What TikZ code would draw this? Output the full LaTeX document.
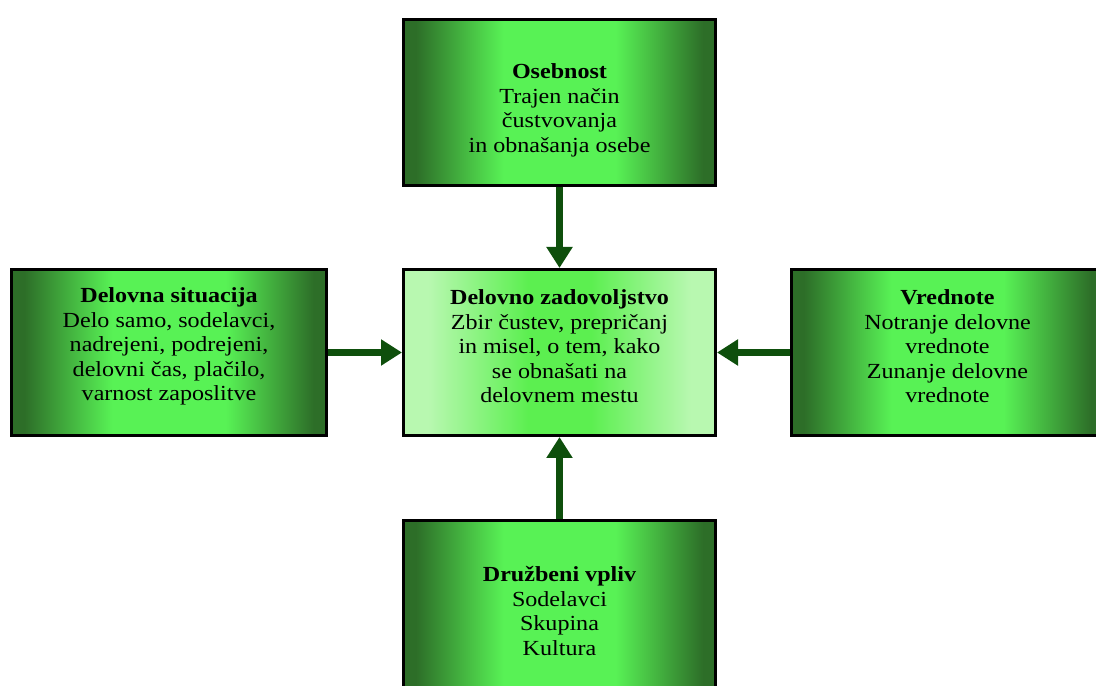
\documentclass[tikz,border=0pt]{standalone}
\usepackage{fontspec}
\setmainfont[FakeStretch=1.12]{Liberation Serif}
\usetikzlibrary{arrows.meta}

\definecolor{gdark}{HTML}{2D6E28}
\definecolor{glight}{HTML}{58F255}
\definecolor{pale}{HTML}{B8F8B0}
\definecolor{mid}{HTML}{5CEF50}
\definecolor{arrgreen}{HTML}{0E4F0C}

\pgfdeclarehorizontalshading{greenfade}{100bp}{color(0bp)=(gdark); color(27bp)=(gdark); color(41bp)=(glight); color(59bp)=(glight); color(73bp)=(gdark); color(100bp)=(gdark)}
\pgfdeclarehorizontalshading{palefade}{100bp}{color(0bp)=(pale); color(29bp)=(pale); color(45bp)=(mid); color(55bp)=(mid); color(71bp)=(pale); color(100bp)=(pale)}

\tikzset{
    box/.style={draw=black, line width=3pt, minimum width=312pt, minimum height=166pt, inner sep=0pt},
    greenbox/.style={box, shading=greenfade},
    mainbox/.style={box, shading=palefade},
    txt/.style={align=center, font=\fontsize{21.5}{24.5}\selectfont, inner sep=0pt},
    arr/.style={arrgreen, line width=7pt, -{Triangle[width=25pt,length=21pt]}}
}

\begin{document}
\begin{tikzpicture}[x=1pt, y=1pt]
    \useasboundingbox (0,0) rectangle (1096,686);
    \clip (0,0) rectangle (1096,686);

    % Boxes
    \node[mainbox] (zadov) at (559.5,333.5) {};
    \node[greenbox] (oseb) at (559.5,583.5) {};
    \node[greenbox, minimum width=315pt] (sit) at (169,333.5) {};
    \node[greenbox] (vred) at (947.5,333.5) {};
    \node[greenbox, minimum height=180pt] (druz) at (559.5,75) {};

    % Texts
    \node[txt, yshift=6pt] (zadovtxt) at (zadov) {\textbf{Delovno zadovoljstvo}\\Zbir čustev, prepričanj\\in misel, o tem, kako\\se obnašati na\\delovnem mestu};
    \node[txt, yshift=-8pt] (osebtxt) at (oseb) {\textbf{Osebnost}\\Trajen način\\čustvovanja\\in obnašanja osebe};
    \node[txt, yshift=6pt] (sittxt) at (sit) {\textbf{Delovna situacija}\\Delo samo, sodelavci,\\nadrejeni, podrejeni,\\delovni čas, plačilo,\\varnost zaposlitve};
    \node[txt, yshift=6pt] (vredtxt) at (vred) {\textbf{Vrednote}\\Notranje delovne\\vrednote\\Zunanje delovne\\vrednote};
    \node[txt] (druztxt) at (druz) {\textbf{Družbeni vpliv}\\Sodelavci\\Skupina\\Kultura};

    % Arrows
    \draw[arr] (oseb) -- (zadov);
    \draw[arr] (druz) -- (zadov);
    \draw[arr] (sit) -- (zadov);
    \draw[arr] (vred) -- (zadov);
\end{tikzpicture}
\end{document}
